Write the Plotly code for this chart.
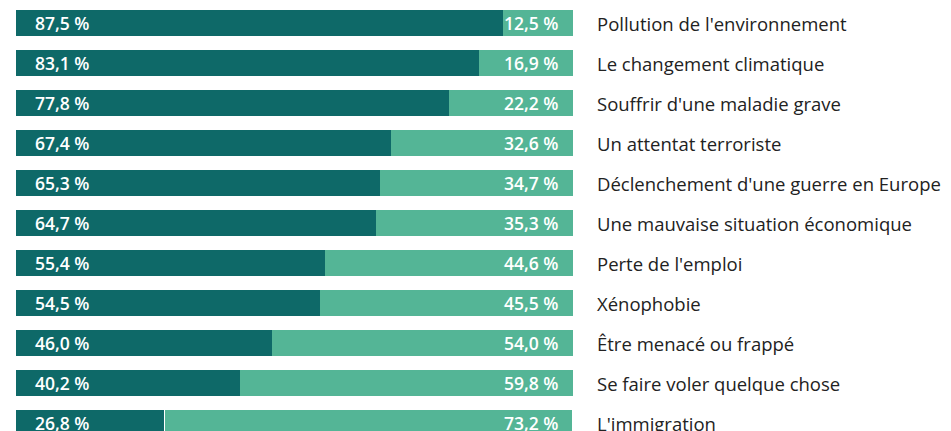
import plotly.graph_objects as go

categories = [
    "Pollution de l'environnement",
    "Le changement climatique",
    "Souffrir d'une maladie grave",
    "Un attentat terroriste",
    "Déclenchement d'une guerre en Europe",
    "Une mauvaise situation économique",
    "Perte de l'emploi",
    "Xénophobie",
    "Être menacé ou frappé",
    "Se faire voler quelque chose",
    "L'immigration",
]
dark_values = [87.5, 83.1, 77.8, 67.4, 65.3, 64.7, 55.4, 54.5, 46.0, 40.2, 26.8]
light_values = [12.5, 16.9, 22.2, 32.6, 34.7, 35.3, 44.6, 45.5, 54.0, 59.8, 73.2]

DARK = "#0e6968"
LIGHT = "#54b596"

def fmt(v):
    return f"{v:.1f}".replace(".", ",") + " %"

ypos = list(range(len(categories)))

fig = go.Figure()
fig.add_trace(go.Bar(
    y=ypos, x=dark_values, orientation="h",
    marker=dict(color=DARK, line=dict(width=0)), width=0.65,
    hoverinfo="skip", showlegend=False,
))
fig.add_trace(go.Bar(
    y=ypos, x=light_values, orientation="h",
    marker=dict(color=LIGHT,
                line=dict(width=[0] * (len(categories) - 1) + [1.5], color="white")),
    width=0.65,
    hoverinfo="skip", showlegend=False,
))

VAL_FONT = dict(family="Open Sans", size=17.5, color="white", weight=600)
ann = []
for i, (cat, d, l) in enumerate(zip(categories, dark_values, light_values)):
    ann.append(dict(x=0, y=i, xref="x", yref="y", text=fmt(d), showarrow=False,
                    xanchor="left", xshift=17, font=VAL_FONT))
    ann.append(dict(x=100, y=i, xref="x", yref="y", text=fmt(l), showarrow=False,
                    xanchor="right", xshift=-13, font=VAL_FONT))
    ann.append(dict(x=1, y=i, xref="paper", yref="y", text=cat, showarrow=False,
                    xanchor="left", xshift=22,
                    font=dict(family="Open Sans", size=18.5, color="#222222")))

fig.update_layout(
    barmode="stack",
    width=951, height=431,
    margin=dict(l=16, r=378, t=0, b=0),
    paper_bgcolor="white", plot_bgcolor="white",
    xaxis=dict(range=[0, 100], visible=False, fixedrange=True),
    yaxis=dict(range=[10.2, -0.575], visible=False, fixedrange=True),
    annotations=ann,
    bargap=0,
)
fig.write_html("out.html", config={"displayModeBar": False},
               post_script="document.body.style.margin='0';document.body.style.overflow='hidden';")
